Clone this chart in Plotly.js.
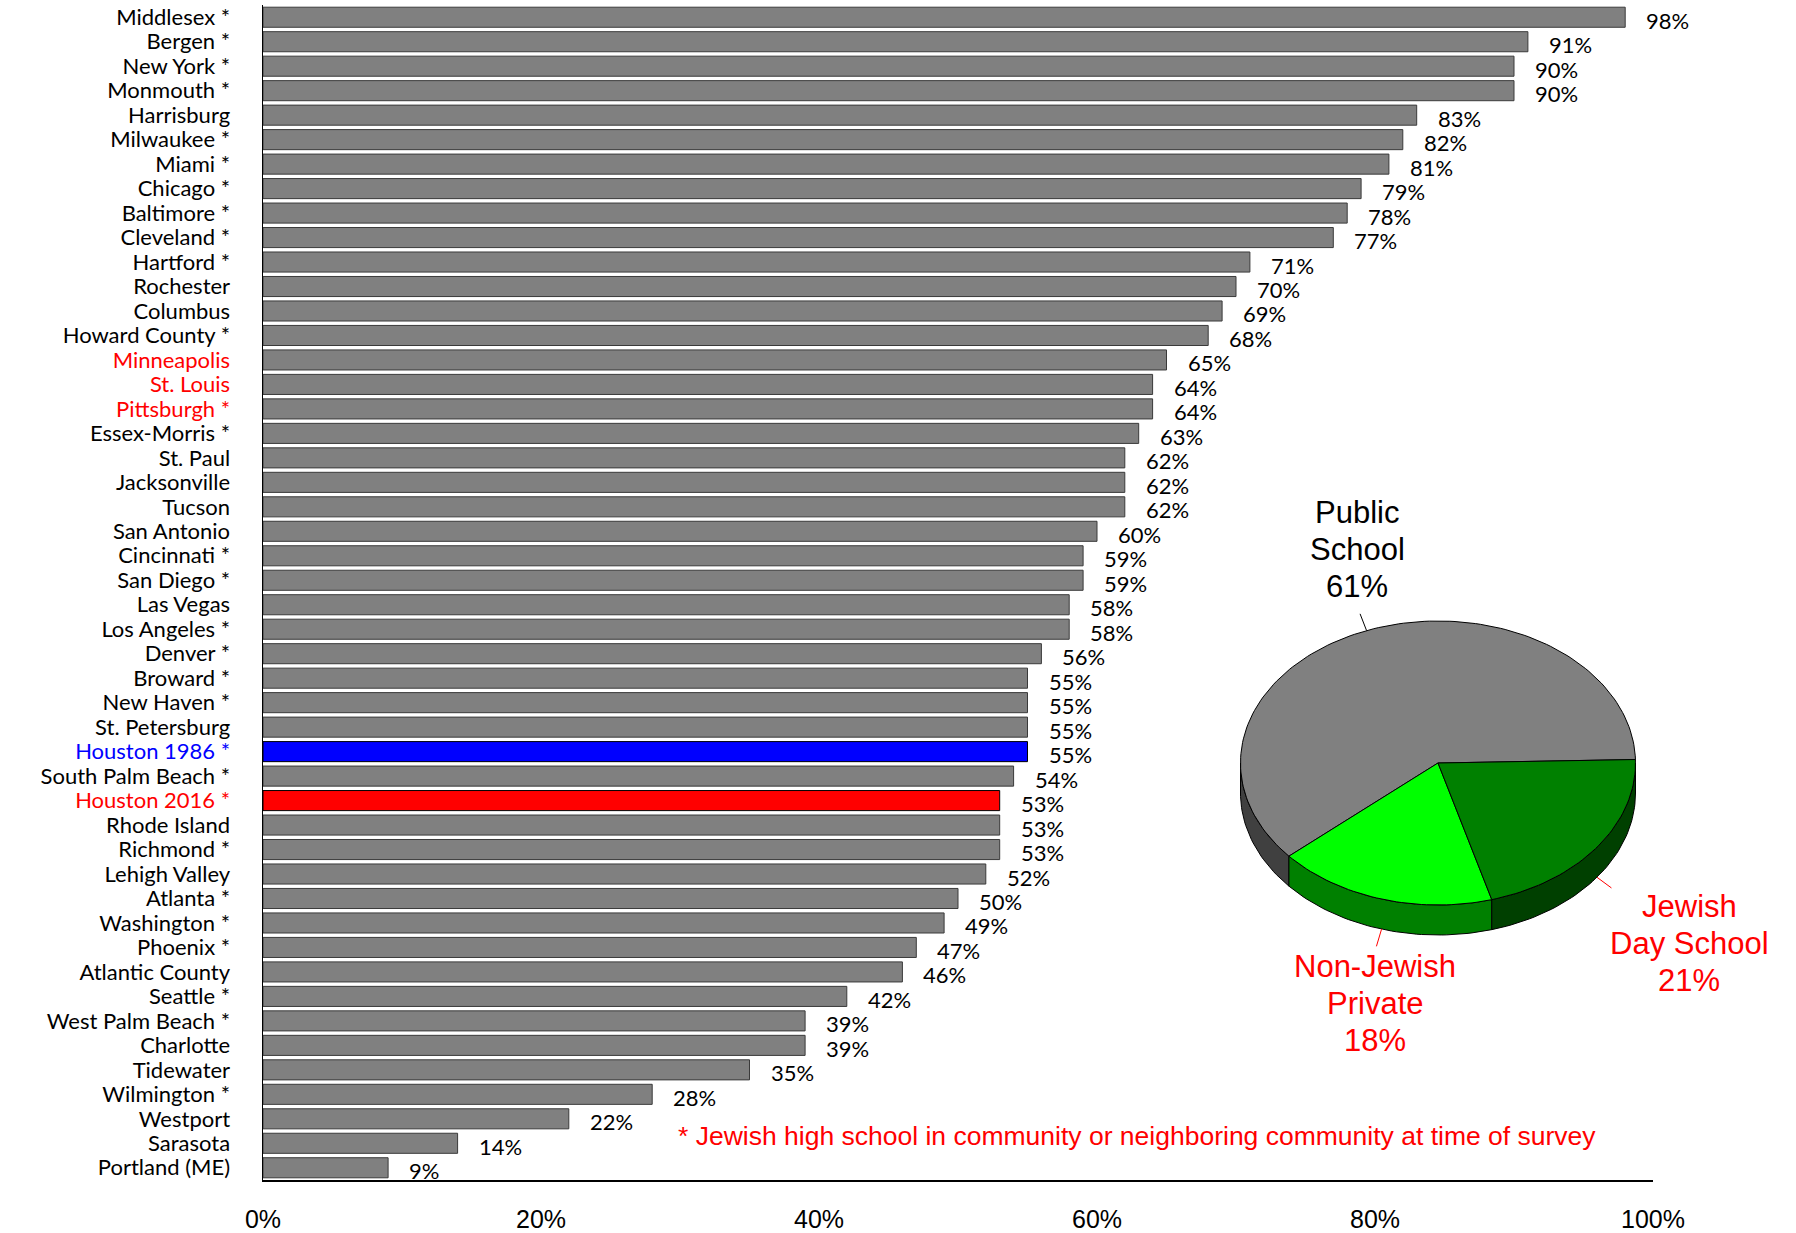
<!DOCTYPE html>
<html>
<head>
<meta charset="utf-8">
<script src="https://cdn.plot.ly/plotly-3.0.1.min.js"></script>
<style>html,body{margin:0;padding:0;background:#fff;}#chart{width:1796px;height:1233px;}</style>
</head>
<body>
<div id="chart"></div>
<script>
// ---------------- DATA ----------------
const cities = [
  "Middlesex *", "Bergen *", "New York *", "Monmouth *", "Harrisburg", "Milwaukee *",
  "Miami *", "Chicago *", "Baltimore *", "Cleveland *", "Hartford *", "Rochester",
  "Columbus", "Howard County *", "Minneapolis", "St. Louis", "Pittsburgh *", "Essex-Morris *",
  "St. Paul", "Jacksonville", "Tucson", "San Antonio", "Cincinnati *", "San Diego *",
  "Las Vegas", "Los Angeles *", "Denver *", "Broward *", "New Haven *", "St. Petersburg",
  "Houston 1986 *", "South Palm Beach *", "Houston 2016 *", "Rhode Island", "Richmond *", "Lehigh Valley",
  "Atlanta *", "Washington *", "Phoenix *", "Atlantic County", "Seattle *", "West Palm Beach *",
  "Charlotte", "Tidewater", "Wilmington *", "Westport", "Sarasota", "Portland (ME)"
];
const publicSchoolPct = [
  98, 91, 90, 90, 83, 82,
  81, 79, 78, 77, 71, 70,
  69, 68, 65, 64, 64, 63,
  62, 62, 62, 60, 59, 59,
  58, 58, 56, 55, 55, 55,
  55, 54, 53, 53, 53, 52,
  50, 49, 47, 46, 42, 39,
  39, 35, 28, 22, 14, 9
];
const xTickVals = [0, 20, 40, 60, 80, 100];
const xTickText = ["0%", "20%", "40%", "60%", "80%", "100%"];

const pieLabelLines = [["Public", "School"], ["Non-Jewish", "Private"], ["Jewish", "Day School"]];
const pieValues = [61, 18, 21];

const footnote = "* Jewish high school in community or neighboring community at time of survey";

// ---------------- STYLE ----------------
const barColorOverride = {"Houston 1986 *": "#0000FF", "Houston 2016 *": "#FF0000"};
const labelColorOverride = {
  "Minneapolis": "#FF0000", "St. Louis": "#FF0000", "Pittsburgh *": "#FF0000",
  "Houston 1986 *": "#0000FF", "Houston 2016 *": "#FF0000"
};
const W = 1796, H = 1233;
const labelFont = "Lato, 'Open Sans', sans-serif";
const arialFont = "'Liberation Sans', Arial, sans-serif";

const barColors = cities.map(c => barColorOverride[c] || "#808080");
const barLines = cities.map(c => barColorOverride[c] ? "#000000" : "#3a3a3a");
const tickText = cities.map(c => labelColorOverride[c]
  ? '<span style="color:' + labelColorOverride[c] + '">' + c + '</span>' : c);

const traces = [{
  type: "bar", orientation: "h",
  x: publicSchoolPct, y: cities,
  marker: {color: barColors, line: {color: barLines, width: 1}},
  width: 0.82, hoverinfo: "none", xaxis: "x", yaxis: "y"
}];

const annotations = cities.map((c, i) => ({
  x: publicSchoolPct[i], y: c, xref: "x", yref: "y",
  text: publicSchoolPct[i] + "%", showarrow: false,
  xanchor: "left", yanchor: "middle", xshift: 19, yshift: -3,
  font: {family: labelFont, size: 22, color: "#000"}
}));

// ---------------- 3D-style PIE (computed from pieValues) ----------------
const cx = 1438, cy = 763, rx = 197.5, ry = 142, depth = 30, startDeg = 1.4;
const pieTop = ["#808080", "#00FF00", "#008000"];
const pieSide = ["#404040", "#008000", "#004000"];
const pieTextColor = ["#000000", "#FF0000", "#FF0000"];
const lineGap = 37;
// offset of the label block (first-line centre) from the leader end
const labelPlacement = [
  {dx: -3, first: -27 - 2 * lineGap},
  {dx: -1, first: 20},
  {dx: 78, first: 19}
];
function arc(a0, a1, dy) {
  const n = Math.max(2, Math.ceil(Math.abs(a1 - a0) / 1.5));
  const xs = [], ys = [];
  for (let i = 0; i <= n; i++) {
    const t = (a0 + (a1 - a0) * i / n) * Math.PI / 180;
    xs.push(cx + rx * Math.cos(t));
    ys.push(cy - ry * Math.sin(t) + dy);
  }
  return {xs, ys};
}
const total = pieValues.reduce((a, b) => a + b, 0);
const angles = [];
let acc = startDeg;
pieValues.forEach(v => { const a0 = acc; acc += v / total * 360; angles.push([a0, acc]); });

const sideTraces = [], topTraces = [];
const shapes = [];
angles.forEach(([a0, a1], k) => {
  const lo = Math.max(a0, 180), hi = Math.min(a1, 360);
  if (hi > lo) {
    const top = arc(lo, hi, 0), bot = arc(hi, lo, depth);
    sideTraces.push({
      type: "scatter", mode: "lines", xaxis: "x2", yaxis: "y2",
      x: top.xs.concat(bot.xs, [top.xs[0]]), y: top.ys.concat(bot.ys, [top.ys[0]]),
      fill: "toself", fillcolor: pieSide[k], line: {color: "#000", width: 1},
      hoverinfo: "none", showlegend: false
    });
  }
  const a = arc(a0, a1, 0);
  topTraces.push({
    type: "scatter", mode: "lines", xaxis: "x2", yaxis: "y2",
    x: [cx].concat(a.xs, [cx]), y: [cy].concat(a.ys, [cy]),
    fill: "toself", fillcolor: pieTop[k], line: {color: "#000", width: 1},
    hoverinfo: "none", showlegend: false
  });
  // leader line + label
  const mid = (a0 + a1) / 2 * Math.PI / 180;
  const front = Math.sin(mid) < 0;
  const px = cx + rx * Math.cos(mid), py = cy - ry * Math.sin(mid) + (front ? depth : 0);
  const dxn = Math.cos(mid), dyn = -Math.sin(mid);
  const len = Math.hypot(dxn, dyn);
  const ex = px + 18 * dxn / len, ey = py + 18 * dyn / len;
  shapes.push({type: "line", xref: "x2", yref: "y2", x0: px, y0: py, x1: ex, y1: ey,
    line: {color: pieTextColor[k], width: 1}});
  const lp = labelPlacement[k];
  const lines = pieLabelLines[k].concat([pieValues[k] + "%"]);
  lines.forEach((t, j) => {
    annotations.push({
      xref: "x2", yref: "y2", x: ex + lp.dx, y: ey + lp.first + j * lineGap,
      xanchor: "center", yanchor: "middle", showarrow: false,
      text: t, font: {family: arialFont, size: 31, color: pieTextColor[k]}
    });
  });
});

annotations.push({
  xref: "paper", yref: "paper", x: 676 / W, y: 1 - 1136 / H,
  xanchor: "left", yanchor: "middle", showarrow: false,
  text: footnote, font: {family: arialFont, size: 26.5, color: "#FF0000"}
});

const layout = {
  width: W, height: H,
  margin: {l: 0, r: 0, t: 0, b: 0},
  paper_bgcolor: "#fff", plot_bgcolor: "rgba(0,0,0,0)",
  showlegend: false,
  xaxis: {
    domain: [263 / W, 1653 / W], range: [0, 100], anchor: "y",
    tickvals: xTickVals, ticktext: xTickText,
    showline: true, linecolor: "#000", linewidth: 1.5,
    showgrid: false, zeroline: false, ticks: "",
    ticklabelstandoff: 16,
    tickfont: {family: arialFont, size: 25, color: "#000"}
  },
  yaxis: {
    domain: [1 - 1180 / H, 1 - 5 / H], type: "category", anchor: "x",
    autorange: false, range: [cities.length - 0.5, -0.5],
    tickvals: cities, ticktext: tickText,
    showline: true, linecolor: "#000", linewidth: 1.5,
    showgrid: false, zeroline: false, ticks: "",
    ticklabelstandoff: 27,
    tickfont: {family: labelFont, size: 22, color: "#000"}
  },
  xaxis2: {domain: [0, 1], range: [0, W], anchor: "y2", visible: false, fixedrange: true},
  yaxis2: {domain: [0, 1], range: [H, 0], anchor: "x2", visible: false, fixedrange: true},
  shapes: shapes,
  annotations: annotations
};

Plotly.newPlot("chart", traces.concat(sideTraces, topTraces), layout, {staticPlot: true});
</script>
</body>
</html>
